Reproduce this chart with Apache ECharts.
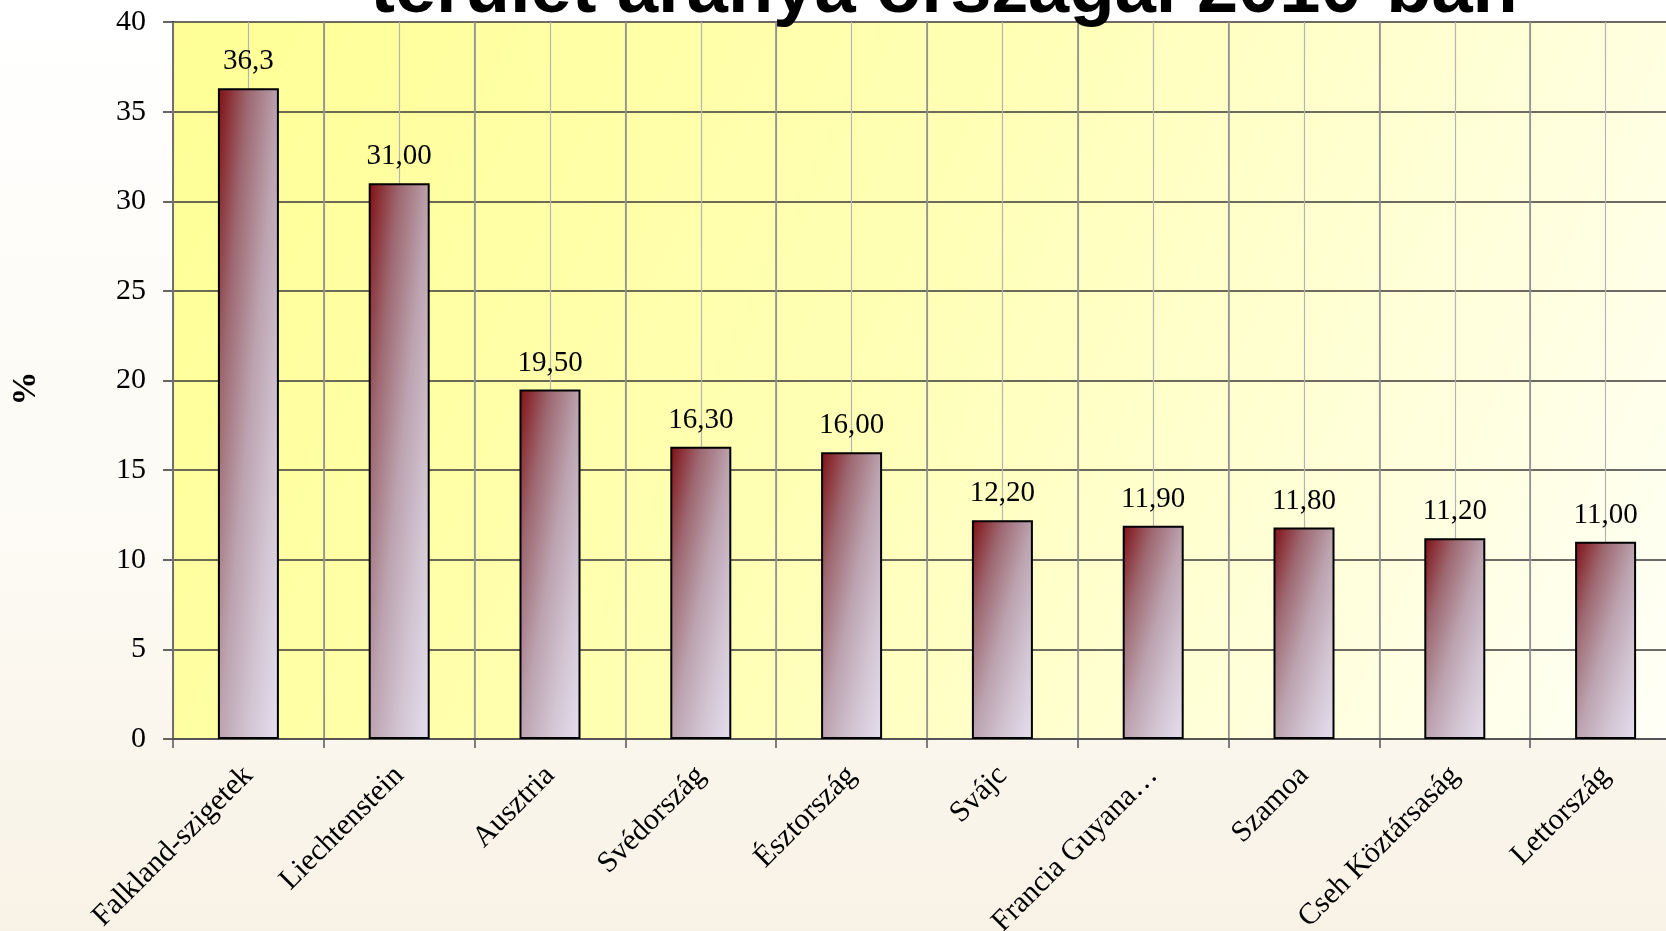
<!DOCTYPE html>
<html>
<head>
<meta charset="utf-8">
<script src="https://cdn.jsdelivr.net/npm/echarts@6/dist/echarts.min.js"></script>
<style>
html,body{margin:0;padding:0;width:1666px;height:931px;overflow:hidden;}
#c{width:1666px;height:931px;}
</style>
</head>
<body>
<div id="c"></div>
<script>
const titleText = 'terület aránya országai 2010-ban';
const categories = ['Falkland-szigetek','Liechtenstein','Ausztria','Svédország','Észtország','Svájc','Francia Guyana…','Szamoa','Cseh Köztársaság','Lettország'];
const values = [36.3, 31.00, 19.50, 16.30, 16.00, 12.20, 11.90, 11.80, 11.20, 11.00];
const valueLabels = ['36,3','31,00','19,50','16,30','16,00','12,20','11,90','11,80','11,20','11,00'];
const yTicks = {min: 0, max: 40, interval: 5};
const yName = '%';

const chart = echarts.init(document.getElementById('c'), null, {renderer: 'canvas'});
const serif = 'Liberation Serif, Times New Roman, serif';
const BAR_W = 61;
const barStops = [
  {offset: 0, color: '#800e12'},
  {offset: 0.25, color: '#9d6770'},
  {offset: 0.5, color: '#bba2ae'},
  {offset: 0.75, color: '#d3c5d3'},
  {offset: 1, color: '#e5dfef'}
];
const option = {
  animation: false,
  backgroundColor: new echarts.graphic.LinearGradient(0, 0, 0, 1, [
    {offset: 0, color: '#ffffff'},
    {offset: 0.6, color: '#fcfaf3'},
    {offset: 1, color: '#f8f2e6'}
  ]),
  graphic: [{
    type: 'text',
    x: 944, y: -8,
    style: {
      text: titleText,
      font: 'bold 74px "Liberation Sans", Arial, sans-serif',
      fill: '#000',
      align: 'center',
      verticalAlign: 'middle'
    },
    z: 100
  }],
  grid: {
    left: 173, top: 22, width: 1508, height: 717,
    outerBoundsMode: 'none',
    containLabel: false,
    show: true,
    borderWidth: 0,
    backgroundColor: new echarts.graphic.LinearGradient(0, 0, 1, 1, [
      {offset: 0, color: '#ffff96'},
      {offset: 0.45, color: '#ffffb4'},
      {offset: 1, color: '#fffff8'}
    ])
  },
  xAxis: [{
    type: 'category',
    data: categories,
    boundaryGap: true,
    axisLine: {show: true, lineStyle: {color: '#555', width: 2}},
    axisTick: {show: true, length: 9, lineStyle: {color: '#555', width: 1.5}},
    axisLabel: {
      rotate: 45, margin: 32, interval: 0,
      fontFamily: serif, fontSize: 30, color: '#000'
    },
    splitLine: {show: true, lineStyle: {color: '#8a8a8a', width: 1.5}},
    z: 3
  }, {
    type: 'value',
    min: 0, max: 10, interval: 0.5,
    show: true,
    position: 'top',
    axisLine: {show: false}, axisTick: {show: false}, axisLabel: {show: false},
    splitLine: {show: true, lineStyle: {color: '#b4b4b4', width: 1.2}}
  }],
  yAxis: {
    type: 'value',
    min: yTicks.min, max: yTicks.max, interval: yTicks.interval,
    name: yName,
    nameLocation: 'middle',
    nameRotate: 90,
    nameGap: 130,
    nameTextStyle: {fontFamily: serif, fontSize: 34, fontWeight: 'bold', color: '#000', padding: [0, 16, 0, 0]},
    axisLine: {show: true, lineStyle: {color: '#222', width: 2}},
    axisTick: {show: true, length: 10, lineStyle: {color: '#333', width: 1.5}},
    axisLabel: {margin: 27, fontFamily: serif, fontSize: 30, color: '#000'},
    splitLine: {show: true, lineStyle: {color: '#3a3a3a', width: 1.5}}
  },
  series: [{
    type: 'bar',
    xAxisIndex: 0,
    data: values,
    barWidth: BAR_W,
    itemStyle: {
      color: new echarts.graphic.LinearGradient(0, 0, 1, 0.1, barStops),
      borderColor: '#000',
      borderWidth: 2
    },
    label: {
      show: true,
      position: 'top',
      distance: 12,
      fontFamily: serif,
      fontSize: 29,
      color: '#000',
      formatter: p => valueLabels[p.dataIndex]
    },
    z: 5
  }]
};
chart.setOption(option);

// Bounding-box diagonal gradient (top-left -> bottom-right scaled to each bar),
// derived from each bar's pixel height through the chart's own y scale.
const base = chart.convertToPixel({yAxisIndex: 0}, 0);
const styled = values.map(v => {
  const h = Math.abs(base - chart.convertToPixel({yAxisIndex: 0}, v));
  const w = BAR_W;
  const x2 = 2 * h * h / (h * h + w * w);
  const y2 = 2 * w * w / (h * h + w * w);
  return {value: v, itemStyle: {color: new echarts.graphic.LinearGradient(0, 0, x2, y2, barStops)}};
});
chart.setOption({series: [{data: styled}]});
</script>
</body>
</html>
